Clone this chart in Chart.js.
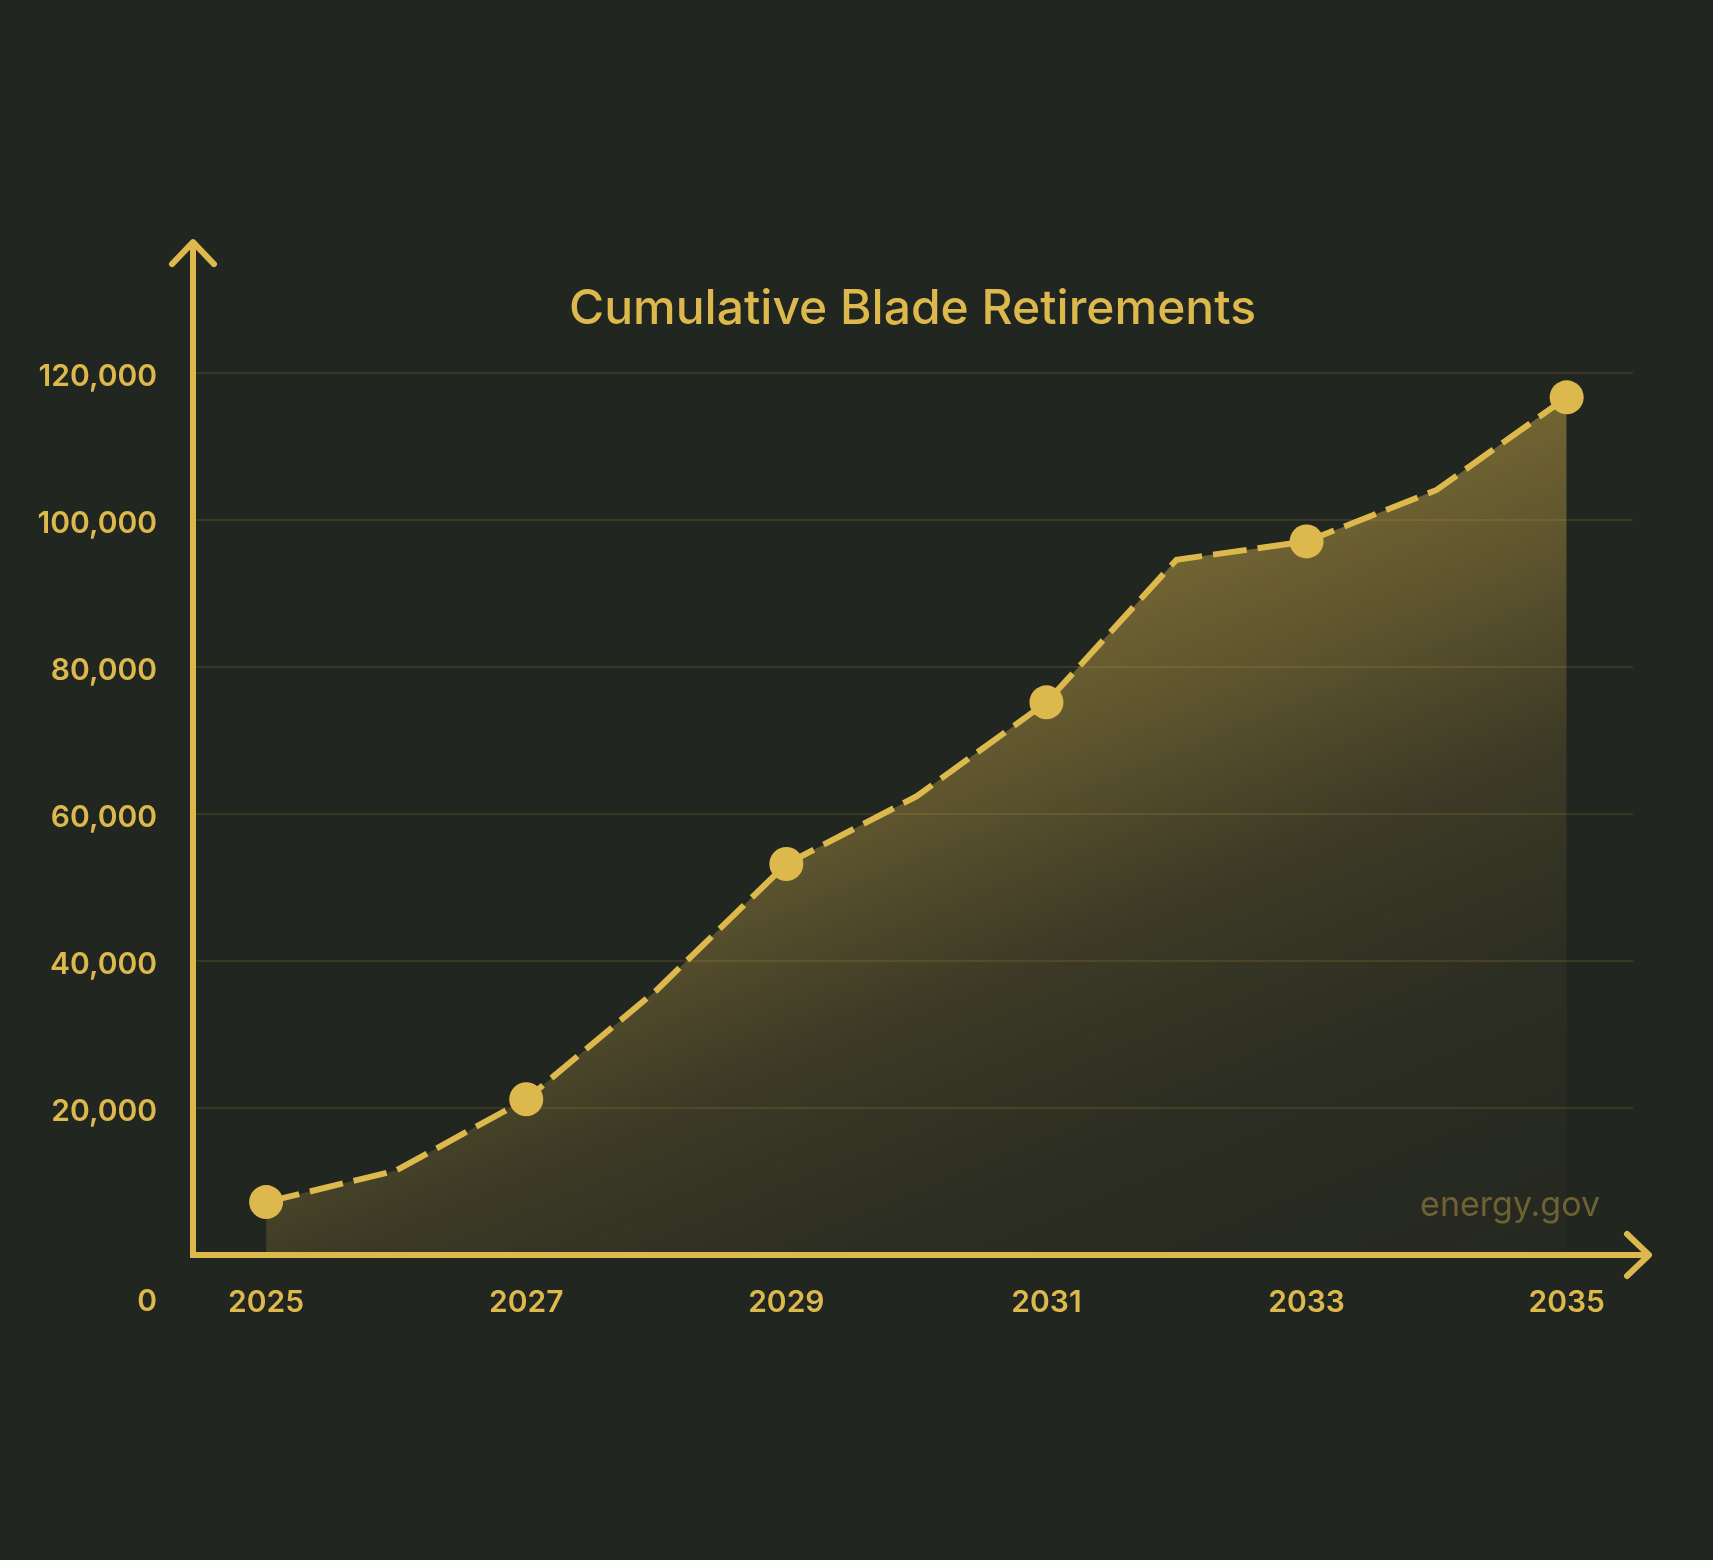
<!DOCTYPE html>
<html>
<head>
<meta charset="utf-8">
<title>Cumulative Blade Retirements</title>
<style>
  html, body { margin: 0; padding: 0; background: #222620; }
  #wrap { width: 1713px; height: 1560px; }
</style>
</head>
<body>
<div id="wrap">
  <canvas id="bladeChart"></canvas>
</div>

<script src="https://cdn.jsdelivr.net/npm/chart.js"></script>
<script>
  // data
  const years = [2025, 2026, 2027, 2028, 2029, 2030, 2031, 2032, 2033, 2034, 2035];
  const retirements = [7200, 11500, 21200, 36000, 53200, 62400, 75200, 94600, 97100, 104100, 116700];
  const xTickYears = [2025, 2027, 2029, 2031, 2033, 2035];
  const markerYears = [2025, 2027, 2029, 2031, 2033, 2035];
  const yTickValues = [0, 20000, 40000, 60000, 80000, 100000, 120000];

  const gold = '#DDB84C';
  const goldA = a => 'rgba(221,184,76,' + a + ')';

  Chart.defaults.font.family = "Inter, 'Noto Sans', sans-serif";
  Chart.defaults.color = gold;

  // diagonal fade under the line: bright near the top-left, dark to the bottom-right
  function fillGradient(ctx) {
    const g = ctx.createLinearGradient(342, 832, 665, 1619);
    g.addColorStop(0, goldA(0.48));
    g.addColorStop(0.23, goldA(0.32));
    g.addColorStop(0.45, goldA(0.14));
    g.addColorStop(0.7, goldA(0.05));
    g.addColorStop(1, goldA(0.02));
    return g;
  }

  // axis lines with arrow heads, the lone "0" label and the source note
  const axisDecor = {
    id: 'axisDecor',
    afterDatasetsDraw(chart) {
      const { ctx, chartArea, scales } = chart;
      const x0 = chartArea.left + 1;
      const y0 = scales.y.getPixelForValue(0);
      const yTip = chartArea.top - 131;
      const xTip = chartArea.right + 16;

      ctx.save();
      ctx.strokeStyle = gold;
      ctx.lineWidth = 6;
      ctx.lineJoin = 'miter';
      ctx.lineCap = 'butt';
      ctx.beginPath();
      ctx.moveTo(x0, yTip);
      ctx.lineTo(x0, y0);
      ctx.lineTo(xTip, y0);
      ctx.stroke();

      ctx.lineCap = 'round';
      ctx.lineJoin = 'round';
      ctx.beginPath();
      ctx.moveTo(x0 - 21, yTip + 22);
      ctx.lineTo(x0, yTip);
      ctx.lineTo(x0 + 21, yTip + 22);
      ctx.moveTo(xTip - 22, y0 - 21);
      ctx.lineTo(xTip, y0);
      ctx.lineTo(xTip - 22, y0 + 21);
      ctx.stroke();

      ctx.fillStyle = gold;
      ctx.font = "600 30px Inter, 'Noto Sans', sans-serif";
      ctx.textAlign = 'right';
      ctx.textBaseline = 'middle';
      ctx.fillText('0', chartArea.left - 35, y0 + 47);

      ctx.fillStyle = '#6E6234';
      ctx.font = "400 34px Inter, 'Noto Sans', sans-serif";
      ctx.textBaseline = 'alphabetic';
      ctx.fillText('energy.gov', chartArea.right - 33, y0 - 39);
      ctx.restore();
    }
  };

  const chart = new Chart(document.getElementById('bladeChart'), {
    type: 'line',
    data: {
      datasets: [{
        label: 'Cumulative Blade Retirements',
        data: years.map((yr, i) => ({ x: yr, y: retirements[i] })),
        borderColor: gold,
        borderWidth: 6,
        borderDash: [34, 11],
        borderCapStyle: 'butt',
        tension: 0,
        fill: 'origin',
        backgroundColor: context => {
          const { ctx, chartArea } = context.chart;
          if (!chartArea) return null;
          return fillGradient(ctx);
        },
        pointRadius: years.map(yr => markerYears.includes(yr) ? 17 : 0),
        pointHoverRadius: years.map(yr => markerYears.includes(yr) ? 17 : 0),
        pointBackgroundColor: gold,
        pointBorderWidth: 0,
        clip: false
      }]
    },
    options: {
      responsive: true,
      maintainAspectRatio: false,
      animation: false,
      events: [],
      layout: {
        padding: { left: 0, right: 80, top: 280.5, bottom: 205 }
      },
      plugins: {
        legend: { display: false },
        tooltip: { enabled: false },
        title: {
          display: true,
          text: 'Cumulative Blade Retirements',
          color: gold,
          fullSize: false,
          font: { size: 48, weight: '500' },
          padding: { top: 0, bottom: 35 }
        }
      },
      scales: {
        x: {
          type: 'linear',
          min: 2024.43,
          max: 2035.51,
          grid: { display: false },
          border: { display: false },
          afterBuildTicks: scale => {
            scale.ticks = xTickYears.map(v => ({ value: v }));
          },
          afterFit: scale => { scale.height = 100; },
          ticks: {
            color: gold,
            padding: 21.5,
            font: { size: 30, weight: '600' },
            maxRotation: 0,
            autoSkip: false,
            callback: v => String(v)
          }
        },
        y: {
          min: 0,
          max: 120000,
          grid: { color: '#3A3724', lineWidth: 2, drawTicks: false },
          border: { display: false },
          afterBuildTicks: scale => {
            scale.ticks = yTickValues.map(v => ({ value: v }));
          },
          afterFit: scale => { scale.width = 192; },
          ticks: {
            color: gold,
            padding: 35,
            labelOffset: 4,
            font: { size: 30, weight: '600' },
            callback: v => v === 0 ? '' : v.toLocaleString('en-US')
          }
        }
      }
    },
    plugins: [axisDecor]
  });
</script>
</body>
</html>
